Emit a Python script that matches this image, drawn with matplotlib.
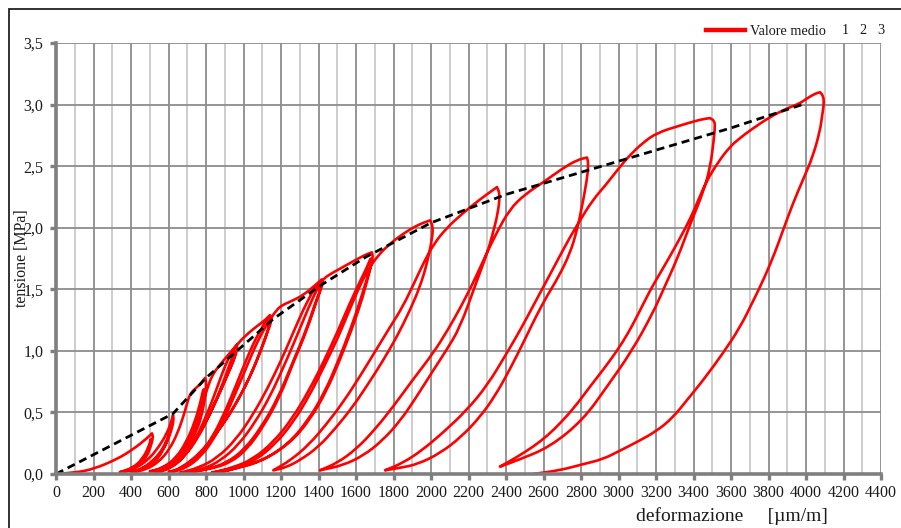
import matplotlib
matplotlib.use("Agg")
import matplotlib.pyplot as plt
from matplotlib.lines import Line2D
from matplotlib.patches import Rectangle, PathPatch
from matplotlib.path import Path
from matplotlib.ticker import MultipleLocator, FuncFormatter

plt.rcParams["font.family"] = ["Liberation Serif", "DejaVu Serif"]

# ---------------- data (strain in µm/m, stress in MPa) ----------------
env_strain = [0, 624, 800, 980, 1160, 1410, 1650, 2000, 2400, 2800, 3200, 3600, 3980]
env_stress = [0, 0.49, 0.78, 1.02, 1.26, 1.53, 1.76, 2.04, 2.27, 2.45, 2.63, 2.81, 3.00]

load0_x = [0, 100, 200, 325, 411, 485, 512]
load0_y = [0, 0.01, 0.04, 0.12, 0.20, 0.29, 0.33]

# cycle 1
unload1_x = [512, 518, 505, 480, 440, 390, 340]
unload1_y = [0.33, 0.30, 0.22, 0.13, 0.07, 0.03, 0.015]
rep1_x = [340, 410, 460, 495, 510, 500, 470, 420, 360]
rep1_y = [0.015, 0.05, 0.12, 0.22, 0.31, 0.22, 0.12, 0.05, 0.015]
reload1_x = [360, 430, 495, 548, 588, 612, 624]
reload1_y = [0.015, 0.05, 0.12, 0.22, 0.32, 0.41, 0.48]

# cycle 2
unload2_x = [624, 628, 615, 590, 550, 500, 450, 400]
unload2_y = [0.48, 0.44, 0.35, 0.25, 0.15, 0.08, 0.04, 0.015]
rep2_x = [400, 470, 530, 575, 605, 622, 612, 585, 545, 495, 455, 420]
rep2_y = [0.015, 0.04, 0.10, 0.20, 0.32, 0.45, 0.36, 0.25, 0.15, 0.08, 0.04, 0.015]
reload2_x = [420, 485, 550, 605, 648, 682, 700, 715, 740, 770, 795]
reload2_y = [0.015, 0.04, 0.10, 0.20, 0.33, 0.48, 0.58, 0.65, 0.69, 0.73, 0.78]

# cycle 3
unload3_x = [795, 802, 795, 778, 750, 705, 650, 580, 500]
unload3_y = [0.78, 0.74, 0.62, 0.48, 0.35, 0.22, 0.12, 0.05, 0.02]
rep3_x = [500, 570, 640, 695, 740, 770, 790, 788, 770, 740, 695, 640, 575, 520]
rep3_y = [0.02, 0.05, 0.13, 0.26, 0.42, 0.58, 0.72, 0.62, 0.48, 0.35, 0.22, 0.12, 0.05, 0.02]
reload3_x = [520, 580, 655, 710, 752, 785, 808, 832, 870, 920, 965]
reload3_y = [0.02, 0.05, 0.14, 0.27, 0.42, 0.58, 0.70, 0.80, 0.88, 0.97, 1.05]

# cycle 4
unload4_x = [965, 966, 945, 912, 870, 825, 780, 731, 680, 624, 570, 530]
unload4_y = [1.05, 1.00, 0.92, 0.80, 0.65, 0.50, 0.37, 0.25, 0.16, 0.09, 0.04, 0.015]
rep4_x = [530, 610, 690, 760, 820, 870, 910, 940, 960, 955, 925, 885, 840, 790, 740, 680, 615, 560, 550]
rep4_y = [0.015, 0.05, 0.15, 0.30, 0.48, 0.66, 0.82, 0.95, 1.02, 0.95, 0.84, 0.70, 0.55, 0.40, 0.27,
          0.16, 0.08, 0.03, 0.015]
reload4_x = [550, 615, 680, 738, 786, 830, 868, 902, 936, 975, 1030, 1080, 1115, 1141]
reload4_y = [0.015, 0.05, 0.13, 0.26, 0.42, 0.58, 0.74, 0.88, 0.99, 1.07, 1.15, 1.21, 1.25, 1.29]

# cycle 5
unload5_x = [1141, 1152, 1125, 1088, 1035, 981, 928, 870, 800, 730, 660, 600]
unload5_y = [1.29, 1.25, 1.14, 0.98, 0.79, 0.63, 0.49, 0.36, 0.22, 0.11, 0.04, 0.015]
rep5_x = [600, 680, 760, 835, 900, 960, 1015, 1065, 1110, 1138, 1140, 1115, 1075, 1025, 970, 915, 855,
          785, 715, 650, 620]
rep5_y = [0.015, 0.05, 0.14, 0.30, 0.50, 0.72, 0.93, 1.10, 1.22, 1.28, 1.22, 1.10, 0.94, 0.76, 0.60,
          0.46, 0.33, 0.20, 0.10, 0.04, 0.015]
reload5_x = [620, 695, 772, 840, 898, 950, 1003, 1052, 1096, 1140, 1175, 1205, 1250, 1317, 1380, 1417]
reload5_y = [0.015, 0.05, 0.14, 0.28, 0.45, 0.63, 0.82, 1.00, 1.14, 1.25, 1.33, 1.37, 1.40, 1.45, 1.53, 1.58]

# cycle 6
unload6_x = [1417, 1425, 1397, 1339, 1264, 1195, 1104, 1019, 928, 820, 730, 661]
unload6_y = [1.58, 1.55, 1.44, 1.17, 0.90, 0.63, 0.38, 0.20, 0.09, 0.04, 0.02, 0.01]
rep6_x = [661, 760, 860, 960, 1050, 1130, 1200, 1260, 1320, 1375, 1412, 1412, 1385, 1330, 1255, 1185,
          1095, 1005, 910, 800, 690]
rep6_y = [0.01, 0.05, 0.13, 0.28, 0.48, 0.70, 0.92, 1.13, 1.34, 1.50, 1.57, 1.50, 1.40, 1.15, 0.88,
          0.62, 0.38, 0.20, 0.09, 0.035, 0.01]
reload6_x = [690, 785, 880, 975, 1062, 1138, 1205, 1268, 1322, 1372, 1420, 1470, 1530, 1600, 1650, 1685]
reload6_y = [0.01, 0.04, 0.11, 0.24, 0.42, 0.62, 0.84, 1.06, 1.26, 1.44, 1.58, 1.63, 1.68, 1.74, 1.78, 1.80]

# cycle 7
unload7_x = [1685, 1691, 1675, 1637, 1584, 1515, 1445, 1355, 1248, 1104, 960, 829]
unload7_y = [1.80, 1.76, 1.66, 1.44, 1.20, 0.93, 0.68, 0.44, 0.25, 0.11, 0.05, 0.01]
rep7_x = [829, 940, 1050, 1160, 1260, 1350, 1430, 1500, 1565, 1620, 1665, 1682, 1682, 1665, 1625, 1572,
          1503, 1432, 1342, 1236, 1094, 950, 850]
rep7_y = [0.01, 0.05, 0.12, 0.26, 0.45, 0.68, 0.92, 1.15, 1.38, 1.56, 1.70, 1.77, 1.70, 1.62, 1.42,
          1.18, 0.91, 0.66, 0.43, 0.24, 0.10, 0.04, 0.01]
reload7_x = [850, 955, 1062, 1168, 1265, 1353, 1432, 1502, 1562, 1612, 1660, 1720, 1781, 1850, 1925, 1995]
reload7_y = [0.01, 0.04, 0.11, 0.24, 0.42, 0.64, 0.88, 1.10, 1.32, 1.50, 1.65, 1.78, 1.87, 1.95, 2.02, 2.06]

# cycle 8
unload8_x = [1995, 2011, 2005, 1979, 1941, 1888, 1820, 1744, 1660, 1580, 1490, 1400, 1300, 1220, 1159]
unload8_y = [2.06, 2.01, 1.90, 1.71, 1.52, 1.33, 1.12, 0.92, 0.72, 0.54, 0.37, 0.22, 0.11, 0.05, 0.03]
reload8_x = [1159, 1250, 1350, 1440, 1530, 1620, 1700, 1780, 1850, 1910, 1965, 2020, 2085, 2171, 2261, 2352]
reload8_y = [0.03, 0.11, 0.24, 0.40, 0.58, 0.79, 0.99, 1.19, 1.36, 1.55, 1.73, 1.88, 2.00, 2.12, 2.23, 2.33]

# cycle 9
unload9_x = [2352, 2368, 2357, 2331, 2299, 2240, 2155, 2080, 2011, 1920, 1835, 1740, 1640, 1530, 1408]
unload9_y = [2.33, 2.27, 2.12, 1.96, 1.79, 1.55, 1.19, 1.00, 0.84, 0.62, 0.43, 0.27, 0.15, 0.07, 0.03]
reload9_x = [1408, 1500, 1600, 1700, 1800, 1900, 2011, 2090, 2160, 2224, 2290, 2350, 2420, 2500, 2600,
             2700, 2779, 2832]
reload9_y = [0.03, 0.09, 0.20, 0.36, 0.55, 0.76, 0.98, 1.17, 1.36, 1.55, 1.77, 1.96, 2.15, 2.27, 2.37,
             2.48, 2.55, 2.57]

# cycle 10
unload10_x = [2832, 2840, 2832, 2805, 2779, 2741, 2680, 2620, 2560, 2500, 2421, 2340, 2260, 2160, 2050,
              1930, 1835, 1755]
unload10_y = [2.57, 2.52, 2.39, 2.17, 1.98, 1.79, 1.60, 1.45, 1.28, 1.09, 0.85, 0.63, 0.46, 0.30, 0.17,
              0.08, 0.05, 0.03]
reload10_x = [1755, 1850, 1950, 2060, 2192, 2300, 2400, 2480, 2550, 2610, 2680, 2740, 2795, 2860, 2939,
              3000, 3061, 3130, 3204, 3328, 3440, 3488]
reload10_y = [0.03, 0.09, 0.19, 0.33, 0.52, 0.72, 0.97, 1.18, 1.38, 1.55, 1.75, 1.92, 2.06, 2.22, 2.36,
              2.48, 2.59, 2.69, 2.77, 2.83, 2.88, 2.89]

# cycle 11
unload11_x = [3488, 3510, 3515, 3508, 3490, 3455, 3380, 3317, 3237, 3184, 3072, 2939, 2811, 2635, 2459, 2368]
unload11_y = [2.89, 2.87, 2.83, 2.71, 2.50, 2.30, 2.02, 1.76, 1.49, 1.31, 1.00, 0.71, 0.44, 0.22, 0.11, 0.06]
reload11_x = [2368, 2450, 2544, 2620, 2688, 2770, 2848, 2920, 2992, 3050, 3099, 3168, 3210, 3264, 3330,
              3385, 3430, 3470, 3530, 3595, 3650, 3701, 3808, 3900, 3968, 4005, 4050, 4075]
reload11_y = [0.06, 0.13, 0.22, 0.31, 0.41, 0.55, 0.71, 0.85, 1.00, 1.14, 1.28, 1.49, 1.60, 1.74, 1.92,
              2.08, 2.24, 2.38, 2.53, 2.66, 2.73, 2.79, 2.90, 2.97, 3.01, 3.05, 3.09, 3.10]

# cycle 12 (final unloading)
unload12_x = [4075, 4092, 4096, 4085, 4075, 4037, 3984, 3931, 3880, 3835, 3780, 3720, 3648, 3557, 3451,
              3365, 3291, 3205, 3099, 3008, 2917, 2811, 2688, 2544]
unload12_y = [3.10, 3.07, 3.01, 2.90, 2.79, 2.58, 2.39, 2.20, 1.99, 1.80, 1.60, 1.41, 1.19, 0.98, 0.76,
              0.60, 0.46, 0.35, 0.26, 0.19, 0.12, 0.08, 0.03, 0.0]

segments_x = [load0_x, unload1_x, rep1_x, reload1_x, unload2_x, rep2_x, reload2_x, unload3_x, rep3_x,
              reload3_x, unload4_x, rep4_x, reload4_x, unload5_x, rep5_x, reload5_x, unload6_x, rep6_x,
              reload6_x, unload7_x, rep7_x, reload7_x, unload8_x, reload8_x, unload9_x, reload9_x,
              unload10_x, reload10_x, unload11_x, reload11_x, unload12_x]
segments_y = [load0_y, unload1_y, rep1_y, reload1_y, unload2_y, rep2_y, reload2_y, unload3_y, rep3_y,
              reload3_y, unload4_y, rep4_y, reload4_y, unload5_y, rep5_y, reload5_y, unload6_y, rep6_y,
              reload6_y, unload7_y, rep7_y, reload7_y, unload8_y, reload8_y, unload9_y, reload9_y,
              unload10_y, reload10_y, unload11_y, reload11_y, unload12_y]

x_ticks = list(range(0, 4401, 200))
y_ticks = [0.0, 0.5, 1.0, 1.5, 2.0, 2.5, 3.0, 3.5]


def smooth_path(xs, ys):
    """Quadratic Bezier path through the midpoints of the read points."""
    verts = [(xs[0], ys[0])]
    codes = [Path.MOVETO]
    for i in range(1, len(xs) - 1):
        verts += [(xs[i], ys[i]), ((xs[i] + xs[i + 1]) / 2, (ys[i] + ys[i + 1]) / 2)]
        codes += [Path.CURVE3, Path.CURVE3]
    verts.append((xs[-1], ys[-1]))
    codes.append(Path.LINETO)
    return Path(verts, codes)


# ---------------- figure ----------------
W, H = 901, 528
fig = plt.figure(figsize=(W / 100, H / 100), dpi=100)
ax = fig.add_axes([56 / W, 1 - 474 / H, 825 / W, 431 / H])

path_x, path_y = [], []
for sx, sy in zip(segments_x, segments_y):
    path_x.extend(sx)
    path_y.extend(sy)
ax.add_patch(PathPatch(smooth_path(path_x, path_y), fill=False, edgecolor="#ff0000", lw=1.9,
                       joinstyle="round", capstyle="round", zorder=3))
ax.plot(env_strain, env_stress, color="black", lw=2.0, dashes=(2.9, 1.8), zorder=4)

ax.set_xlim(0, 4400)
ax.set_ylim(0, 3.5)
ax.set_xticks(x_ticks)
ax.xaxis.set_minor_locator(MultipleLocator(100))
ax.set_yticks(y_ticks)
ax.yaxis.set_major_formatter(FuncFormatter(lambda v, p: f"{v:.1f}".replace(".", ",")))
ax.xaxis.set_major_formatter(FuncFormatter(lambda v, p: f"{int(round(v))}"))

ax.grid(which="major", axis="x", color="#8c8c8c", lw=1.3)
ax.grid(which="minor", axis="x", color="#c9c9c9", lw=1.3)
ax.grid(which="major", axis="y", color="#8c8c8c", lw=1.3)
ax.set_axisbelow(True)

for s in ("top", "right"):
    ax.spines[s].set_visible(False)
for s in ("left", "bottom"):
    ax.spines[s].set_color("#7f7f7f")
    ax.spines[s].set_linewidth(2.6)
    ax.spines[s].set_zorder(5)

ax.tick_params(axis="both", which="major", colors="#7f7f7f", width=2.4, length=4,
               labelcolor="#1a1a1a", labelsize=11.5)
ax.tick_params(axis="x", which="major", pad=4)
ax.tick_params(axis="y", which="major", pad=5)
ax.tick_params(axis="x", which="minor", length=0)

ax.set_xlabel("deformazione     [µm/m]", fontsize=14, color="#1a1a1a")
ax.xaxis.set_label_coords((732 - 56) / 825, -(516 - 474) / 431)
ax.xaxis.label.set_va("center")
ax.set_ylabel("tensione [MPa]", fontsize=11.5, color="#1a1a1a")
ax.yaxis.set_label_coords(-(56 - 22) / 825, 0.5)
ax.yaxis.label.set_va("center")

# legend
handle = Line2D([], [], color="#ff0000", lw=3.2)
leg = fig.legend([handle], ["Valore medio"], loc="center left",
                 bbox_to_anchor=(706 / W, 1 - 31 / H), frameon=False, fontsize=10.3,
                 handlelength=2.7, handletextpad=0.35, borderpad=0, borderaxespad=0)
for t in leg.get_texts():
    t.set_color("#1a1a1a")
for lab, px in zip(["1", "2", "3"], [845, 863, 881]):
    fig.text(px / W, 1 - 31 / H, lab, ha="center", va="center", fontsize=10.3, color="#1a1a1a")

# outer frame of the chart area
fig.add_artist(Rectangle((9 / W, -0.1), 1.2, (H - 9) / H + 0.1, transform=fig.transFigure,
                         fill=False, edgecolor="#222222", lw=1.3, clip_on=False))

fig.savefig("out.png", dpi=100)
